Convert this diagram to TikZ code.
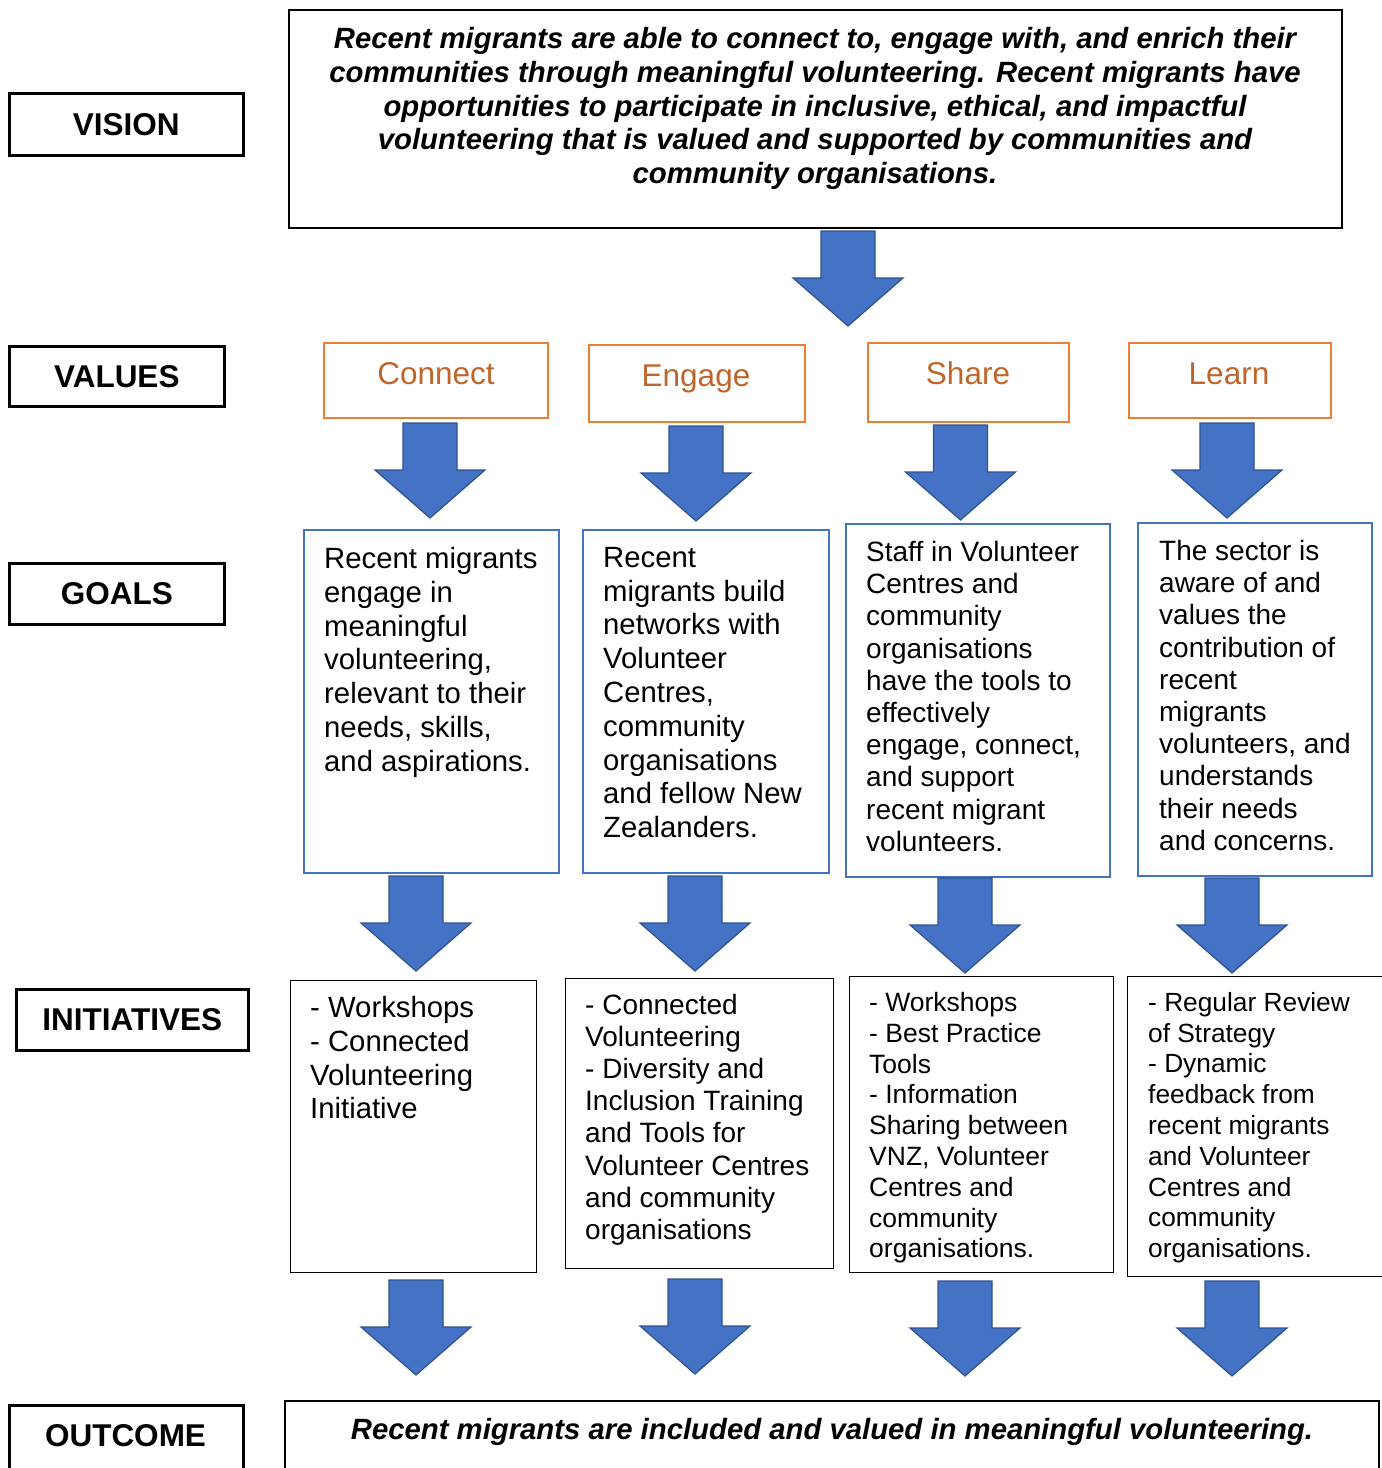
\documentclass[tikz,border=0pt]{standalone}
\usepackage{fontspec}
\setmainfont{Liberation Sans}
\definecolor{gblue}{HTML}{4472C4}
\definecolor{gbord}{HTML}{2F528F}
\definecolor{orng}{HTML}{ED7D31}
\definecolor{otext}{HTML}{C0652A}
\newcommand\blockarrow[2]{%
  \draw[barrow] ({#1-27},#2) -- ({#1+27},#2) -- ({#1+27},{#2+47}) -- ({#1+55},{#2+47})
    -- (#1,{#2+95}) -- ({#1-55},{#2+47}) -- ({#1-27},{#2+47}) -- cycle;}
\begin{document}
\begin{tikzpicture}[x=1pt,y=-1pt,
  lblbox/.style={draw=black,line width=2.6pt,inner sep=0pt,anchor=north west,
    font=\fontsize{31.5}{36}\selectfont\bfseries},
  blackbox/.style={draw=black,line width=2.2pt,inner sep=0pt,anchor=north west},
  valbox/.style={draw=orng,line width=2pt,inner sep=0pt,anchor=north west},
  valtext/.style={text=otext,inner sep=0pt,anchor=base,font=\fontsize{31.5}{36}\selectfont},
  goalbox/.style={draw=gblue,line width=2.2pt,inner sep=0pt,anchor=north west},
  initbox/.style={draw=black,line width=1.3pt,inner sep=0pt,anchor=north west},
  btext/.style={inner sep=0pt,anchor=north west,align=left},
  vtxt/.style={inner sep=0pt,align=center,font=\fontsize{29.3}{33.8}\selectfont\bfseries\itshape},
  barrow/.style={fill=gblue,draw=gbord,line width=1.2pt,line join=miter}]
\useasboundingbox (0,0) rectangle (1382,1468);
\clip (0,0) rectangle (1382,1468);

% ---- labels ----
\node[lblbox,minimum width=234pt,minimum height=62pt] (lvision) at (8,92) {VISION};
\node[lblbox,minimum width=215pt,minimum height=60pt] (lvalues) at (8,345) {VALUES};
\node[lblbox,minimum width=215pt,minimum height=61pt] (lgoals) at (8,562) {GOALS};
\node[lblbox,minimum width=232pt,minimum height=61pt] (linit) at (15,988) {INITIATIVES};
\node[lblbox,minimum width=234pt,minimum height=100pt] (loutc) at (8,1404) {};
\node[inner sep=0pt,anchor=base,font=\fontsize{31.5}{36}\selectfont\bfseries] (loutct) at (125.5,1446) {OUTCOME};

% ---- vision ----
\node[blackbox,minimum width=1053pt,minimum height=218pt] (vbox) at (288,9) {};
\node[vtxt,anchor=north] (vtext) at (815,27) {Recent migrants are able to connect to, engage with, and enrich their\\
communities through meaningful volunteering. Recent migrants have\\
opportunities to participate in inclusive, ethical, and impactful\\
volunteering that is valued and supported by communities and\\
community organisations.};
\blockarrow{848}{231}

% ---- values ----
\node[valbox,minimum width=224pt,minimum height=75pt] (v1) at (323,342) {};
\node[valbox,minimum width=216pt,minimum height=77pt] (v2) at (588,344) {};
\node[valbox,minimum width=201pt,minimum height=79pt] (v3) at (867,342) {};
\node[valbox,minimum width=202pt,minimum height=75pt] (v4) at (1128,342) {};
\node[valtext] (v1t) at (436,384) {Connect};
\node[valtext] (v2t) at (696,386) {Engage};
\node[valtext] (v3t) at (968,384) {Share};
\node[valtext] (v4t) at (1229,384) {Learn};
\blockarrow{430}{423}
\blockarrow{696}{426}
\blockarrow{960.5}{425}
\blockarrow{1227}{423}

% ---- goals ----
\node[goalbox,minimum width=255pt,minimum height=343pt] (g1) at (303,529) {};
\node[goalbox,minimum width=246pt,minimum height=343pt] (g2) at (582,529) {};
\node[goalbox,minimum width=264pt,minimum height=353pt] (g3) at (845,523) {};
\node[goalbox,minimum width=234pt,minimum height=353pt] (g4) at (1137,522) {};
\node[btext,font=\fontsize{29.3}{33.8}\selectfont] (g1t) at (324,547) {Recent migrants\\engage in\\meaningful\\volunteering,\\relevant to their\\needs, skills,\\and aspirations.};
\node[btext,font=\fontsize{29.3}{33.8}\selectfont] (g2t) at (603,547) {Recent\\migrants build\\networks with\\Volunteer\\Centres,\\community\\organisations\\and fellow New\\Zealanders.};
\node[btext,font=\fontsize{28}{32.2}\selectfont] (g3t) at (866,541) {Staff in Volunteer\\Centres and\\community\\organisations\\have the tools to\\effectively\\engage, connect,\\and support\\recent migrant\\volunteers.};
\node[btext,font=\fontsize{28}{32.2}\selectfont] (g4t) at (1159,540) {The sector is\\aware of and\\values the\\contribution of\\recent\\migrants\\volunteers, and\\understands\\their needs\\and concerns.};
\blockarrow{416}{876}
\blockarrow{695}{876}
\blockarrow{965}{878}
\blockarrow{1232}{878}

% ---- initiatives ----
\node[initbox,minimum width=246pt,minimum height=292pt] (i1) at (290,980) {};
\node[initbox,minimum width=268pt,minimum height=290pt] (i2) at (565,978) {};
\node[initbox,minimum width=264pt,minimum height=296pt] (i3) at (849,976) {};
\node[initbox,minimum width=256pt,minimum height=300pt] (i4) at (1127,976) {};
\node[btext,font=\fontsize{29.3}{33.8}\selectfont] (i1t) at (310,996) {- Workshops\\- Connected\\Volunteering\\Initiative};
\node[btext,font=\fontsize{28}{32.1}\selectfont] (i2t) at (585,994) {- Connected\\Volunteering\\- Diversity and\\Inclusion Training\\and Tools for\\Volunteer Centres\\and community\\organisations};
\node[btext,font=\fontsize{26.5}{30.8}\selectfont] (i3t) at (869,992) {- Workshops\\- Best Practice\\Tools\\- Information\\Sharing between\\VNZ, Volunteer\\Centres and\\community\\organisations.};
\node[btext,font=\fontsize{26.3}{30.8}\selectfont] (i4t) at (1148,992) {- Regular Review\\of Strategy\\- Dynamic\\feedback from\\recent migrants\\and Volunteer\\Centres and\\community\\organisations.};
\blockarrow{416}{1280}
\blockarrow{695}{1279}
\blockarrow{965}{1281}
\blockarrow{1232}{1281}

% ---- outcome ----
\node[blackbox,minimum width=1094pt,minimum height=100pt] (obox) at (284,1400) {};
\node[vtxt,anchor=north] (otext) at (832,1418) {Recent migrants are included and valued in meaningful volunteering.};
\end{tikzpicture}
\end{document}
